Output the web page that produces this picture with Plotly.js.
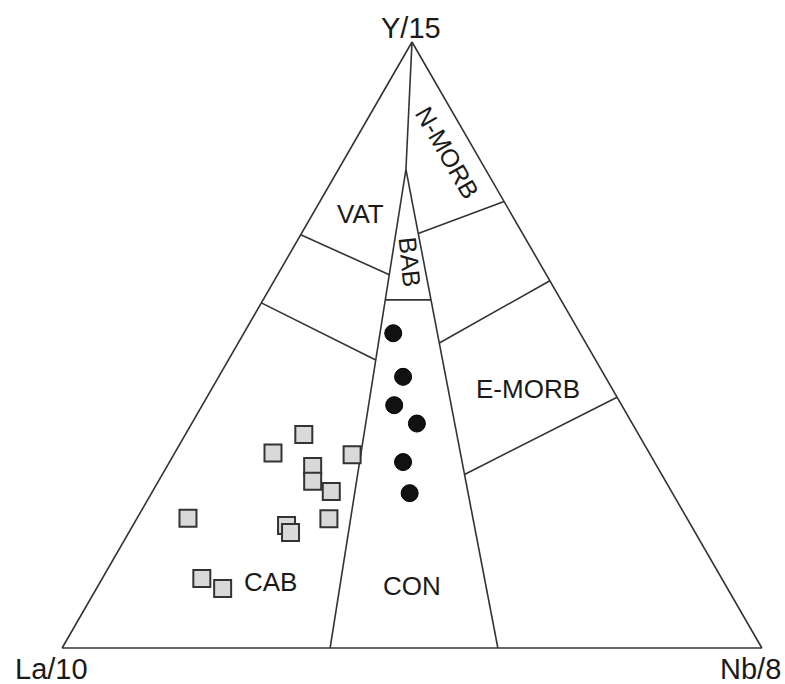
<!DOCTYPE html>
<html>
<head>
<meta charset="utf-8">
<script src="https://cdn.plot.ly/plotly-3.0.1.min.js"></script>
<style>html,body{margin:0;padding:0;background:#fff;}#chart{width:785px;height:684px;}</style>
</head>
<body>
<div id="chart"></div>
<script>
// Data samples (ternary fractions): Y/15 (apex), La/10 (left), Nb/8 (right)
const cabY  = [0.3522, 0.3217, 0.3190, 0.2997, 0.2753, 0.2583, 0.2141, 0.2020, 0.1904, 0.2131, 0.1147, 0.0982];
const cabLa = [0.4785, 0.5378, 0.4261, 0.4921, 0.5043, 0.4862, 0.7131, 0.5783, 0.5784, 0.5122, 0.7430, 0.7215];
const cabNb = [0.1693, 0.1405, 0.2549, 0.2082, 0.2204, 0.2555, 0.0728, 0.2197, 0.2312, 0.2747, 0.1423, 0.1803];

const conY  = [0.5194, 0.4475, 0.4007, 0.3704, 0.3068, 0.2555];
const conLa = [0.2671, 0.2890, 0.3251, 0.3078, 0.3594, 0.3756];
const conNb = [0.2135, 0.2635, 0.2742, 0.3218, 0.3338, 0.3689];

// Field boundaries, each vertex as [Y/15, La/10, Nb/8]
const bApex     = [[1, 0, 0], [0.7897, 0.1138, 0.0965]];
const bConLeft  = [[0.7897, 0.1138, 0.0965], [0, 0.617, 0.383]];
const bConRight = [[0.7897, 0.1138, 0.0965], [0, 0.3773, 0.6227]];
const bBabBase  = [[0.5745, 0.2509, 0.1746], [0.5745, 0.1856, 0.2399]];
const bNmorb    = [[0.6838, 0.1492, 0.1670], [0.7368, 0, 0.2632]];
const bVatUp    = [[0.682, 0.318, 0], [0.6159, 0.2245, 0.1596]];
const bVatLow   = [[0.5695, 0.4305, 0], [0.4752, 0.3142, 0.2106]];
const bEmorbUp  = [[0.5033, 0.2093, 0.2874], [0.606, 0, 0.394]];
const bEmorbLow = [[0.2864, 0.2818, 0.4318], [0.4139, 0, 0.5861]];
const boundaries = [bApex, bConLeft, bConRight, bBabBase, bNmorb, bVatUp, bVatLow, bEmorbUp, bEmorbLow];

// Labels
const fieldNames = ['VAT', 'BAB', 'N-MORB', 'E-MORB', 'CAB', 'CON'];
const apexNames = ['Y/15', 'La/10', 'Nb/8'];

const lineColor = '#333333';
const fontFam = 'Liberation Sans, Arial, Helvetica, sans-serif';

const traces = boundaries.map(seg => ({
  type: 'scatterternary', mode: 'lines',
  a: seg.map(p => p[0]), b: seg.map(p => p[1]), c: seg.map(p => p[2]),
  line: {color: lineColor, width: 1.6},
  hoverinfo: 'skip', showlegend: false, cliponaxis: false
}));

traces.push({
  type: 'scatterternary', mode: 'markers', name: 'CAB samples',
  a: cabY, b: cabLa, c: cabNb,
  marker: {symbol: 'square', size: 17, color: '#d9d9d9', line: {color: '#333333', width: 2}},
  showlegend: false
});
traces.push({
  type: 'scatterternary', mode: 'markers', name: 'CON samples',
  a: conY, b: conLa, c: conNb,
  marker: {symbol: 'circle', size: 17, color: '#111111', line: {color: '#000000', width: 1}},
  showlegend: false
});

const hiddenAxis = {
  showgrid: false, showticklabels: false, ticks: '', showline: true,
  linecolor: lineColor, linewidth: 1.6, title: {text: ''}
};

function ann(text, x, y, size, angle) {
  return {text: text, x: x, y: y, xref: 'paper', yref: 'paper', showarrow: false,
    xanchor: 'center', yanchor: 'middle', textangle: angle || 0,
    font: {family: fontFam, size: size, color: '#1a1a1a'}};
}

const layout = {
  width: 785, height: 684,
  margin: {l: 62, r: 23, t: 42, b: 36},
  paper_bgcolor: '#ffffff',
  showlegend: false,
  ternary: {
    sum: 1,
    bgcolor: '#ffffff',
    domain: {x: [0, 1], y: [0, 1]},
    aaxis: hiddenAxis, baxis: hiddenAxis, caxis: hiddenAxis
  },
  annotations: [
    ann(apexNames[0], 0.4986, 1.0239, 29),
    ann(apexNames[1], -0.015, -0.0347, 29),
    ann(apexNames[2], 0.9829, -0.0347, 29),
    ann(fieldNames[0], 0.4264, 0.7162, 26),
    ann(fieldNames[1], 0.4971, 0.637, 25, 84),
    ann(fieldNames[2], 0.55, 0.8185, 25, 60),
    ann(fieldNames[3], 0.665, 0.4282, 26),
    ann(fieldNames[4], 0.2979, 0.1097, 26),
    ann(fieldNames[5], 0.5007, 0.1015, 26)
  ]
};

Plotly.newPlot('chart', traces, layout, {displayModeBar: false, staticPlot: true});
</script>
</body>
</html>
